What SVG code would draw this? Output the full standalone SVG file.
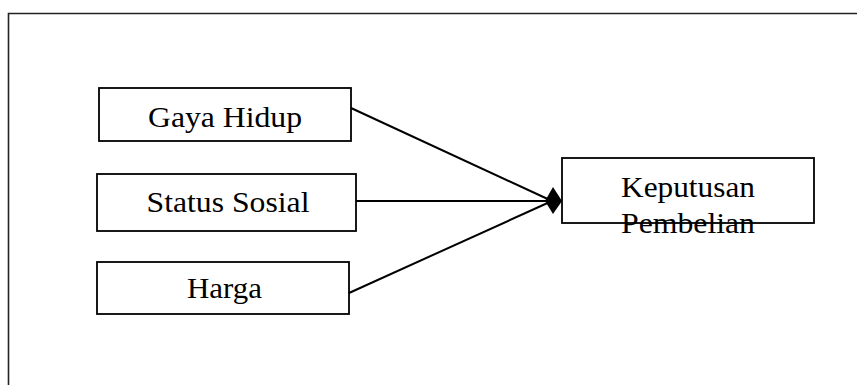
<svg xmlns="http://www.w3.org/2000/svg" width="857" height="385" viewBox="0 0 857 385">
<style>
.box{fill:#fff;stroke:#000;stroke-width:1.8}
.lbl{font-size:30px;fill:#000;text-anchor:middle}
.edge{stroke:#000;stroke-width:2;fill:none}
.frame{fill:none;stroke:#222;stroke-width:1.6}
</style>
<rect width="857" height="385" fill="#fff"/>
<path class="frame" d="M8.5,400 V13.5 H870"/>
<g id="gaya-hidup">
<rect class="box" x="99" y="88" width="252" height="53"/>
<text class="lbl" font-family="Liberation Serif, Times New Roman, serif" x="225" y="127" textLength="154" lengthAdjust="spacingAndGlyphs">Gaya Hidup</text>
</g>
<g id="status-sosial">
<rect class="box" x="97" y="174" width="259" height="57"/>
<text class="lbl" font-family="Liberation Serif, Times New Roman, serif" x="228" y="212" textLength="163" lengthAdjust="spacingAndGlyphs">Status Sosial</text>
</g>
<g id="harga">
<rect class="box" x="97" y="262" width="252" height="52"/>
<text class="lbl" font-family="Liberation Serif, Times New Roman, serif" x="224.5" y="298" textLength="75" lengthAdjust="spacingAndGlyphs">Harga</text>
</g>
<g id="keputusan-pembelian">
<rect class="box" x="562" y="158" width="252" height="65"/>
<text class="lbl" font-family="Liberation Serif, Times New Roman, serif" x="688" y="197" textLength="134" lengthAdjust="spacingAndGlyphs">Keputusan</text>
<text class="lbl" font-family="Liberation Serif, Times New Roman, serif" x="688" y="233" textLength="134" lengthAdjust="spacingAndGlyphs">Pembelian</text>
</g>
<g id="connectors">
<line class="edge" x1="351" y1="108" x2="552" y2="201"/>
<line class="edge" x1="356" y1="201" x2="552" y2="201"/>
<line class="edge" x1="349" y1="293" x2="552" y2="201"/>
<polygon points="545,201 553,187 562,201 553,214" fill="#000"/>
</g>
</svg>
